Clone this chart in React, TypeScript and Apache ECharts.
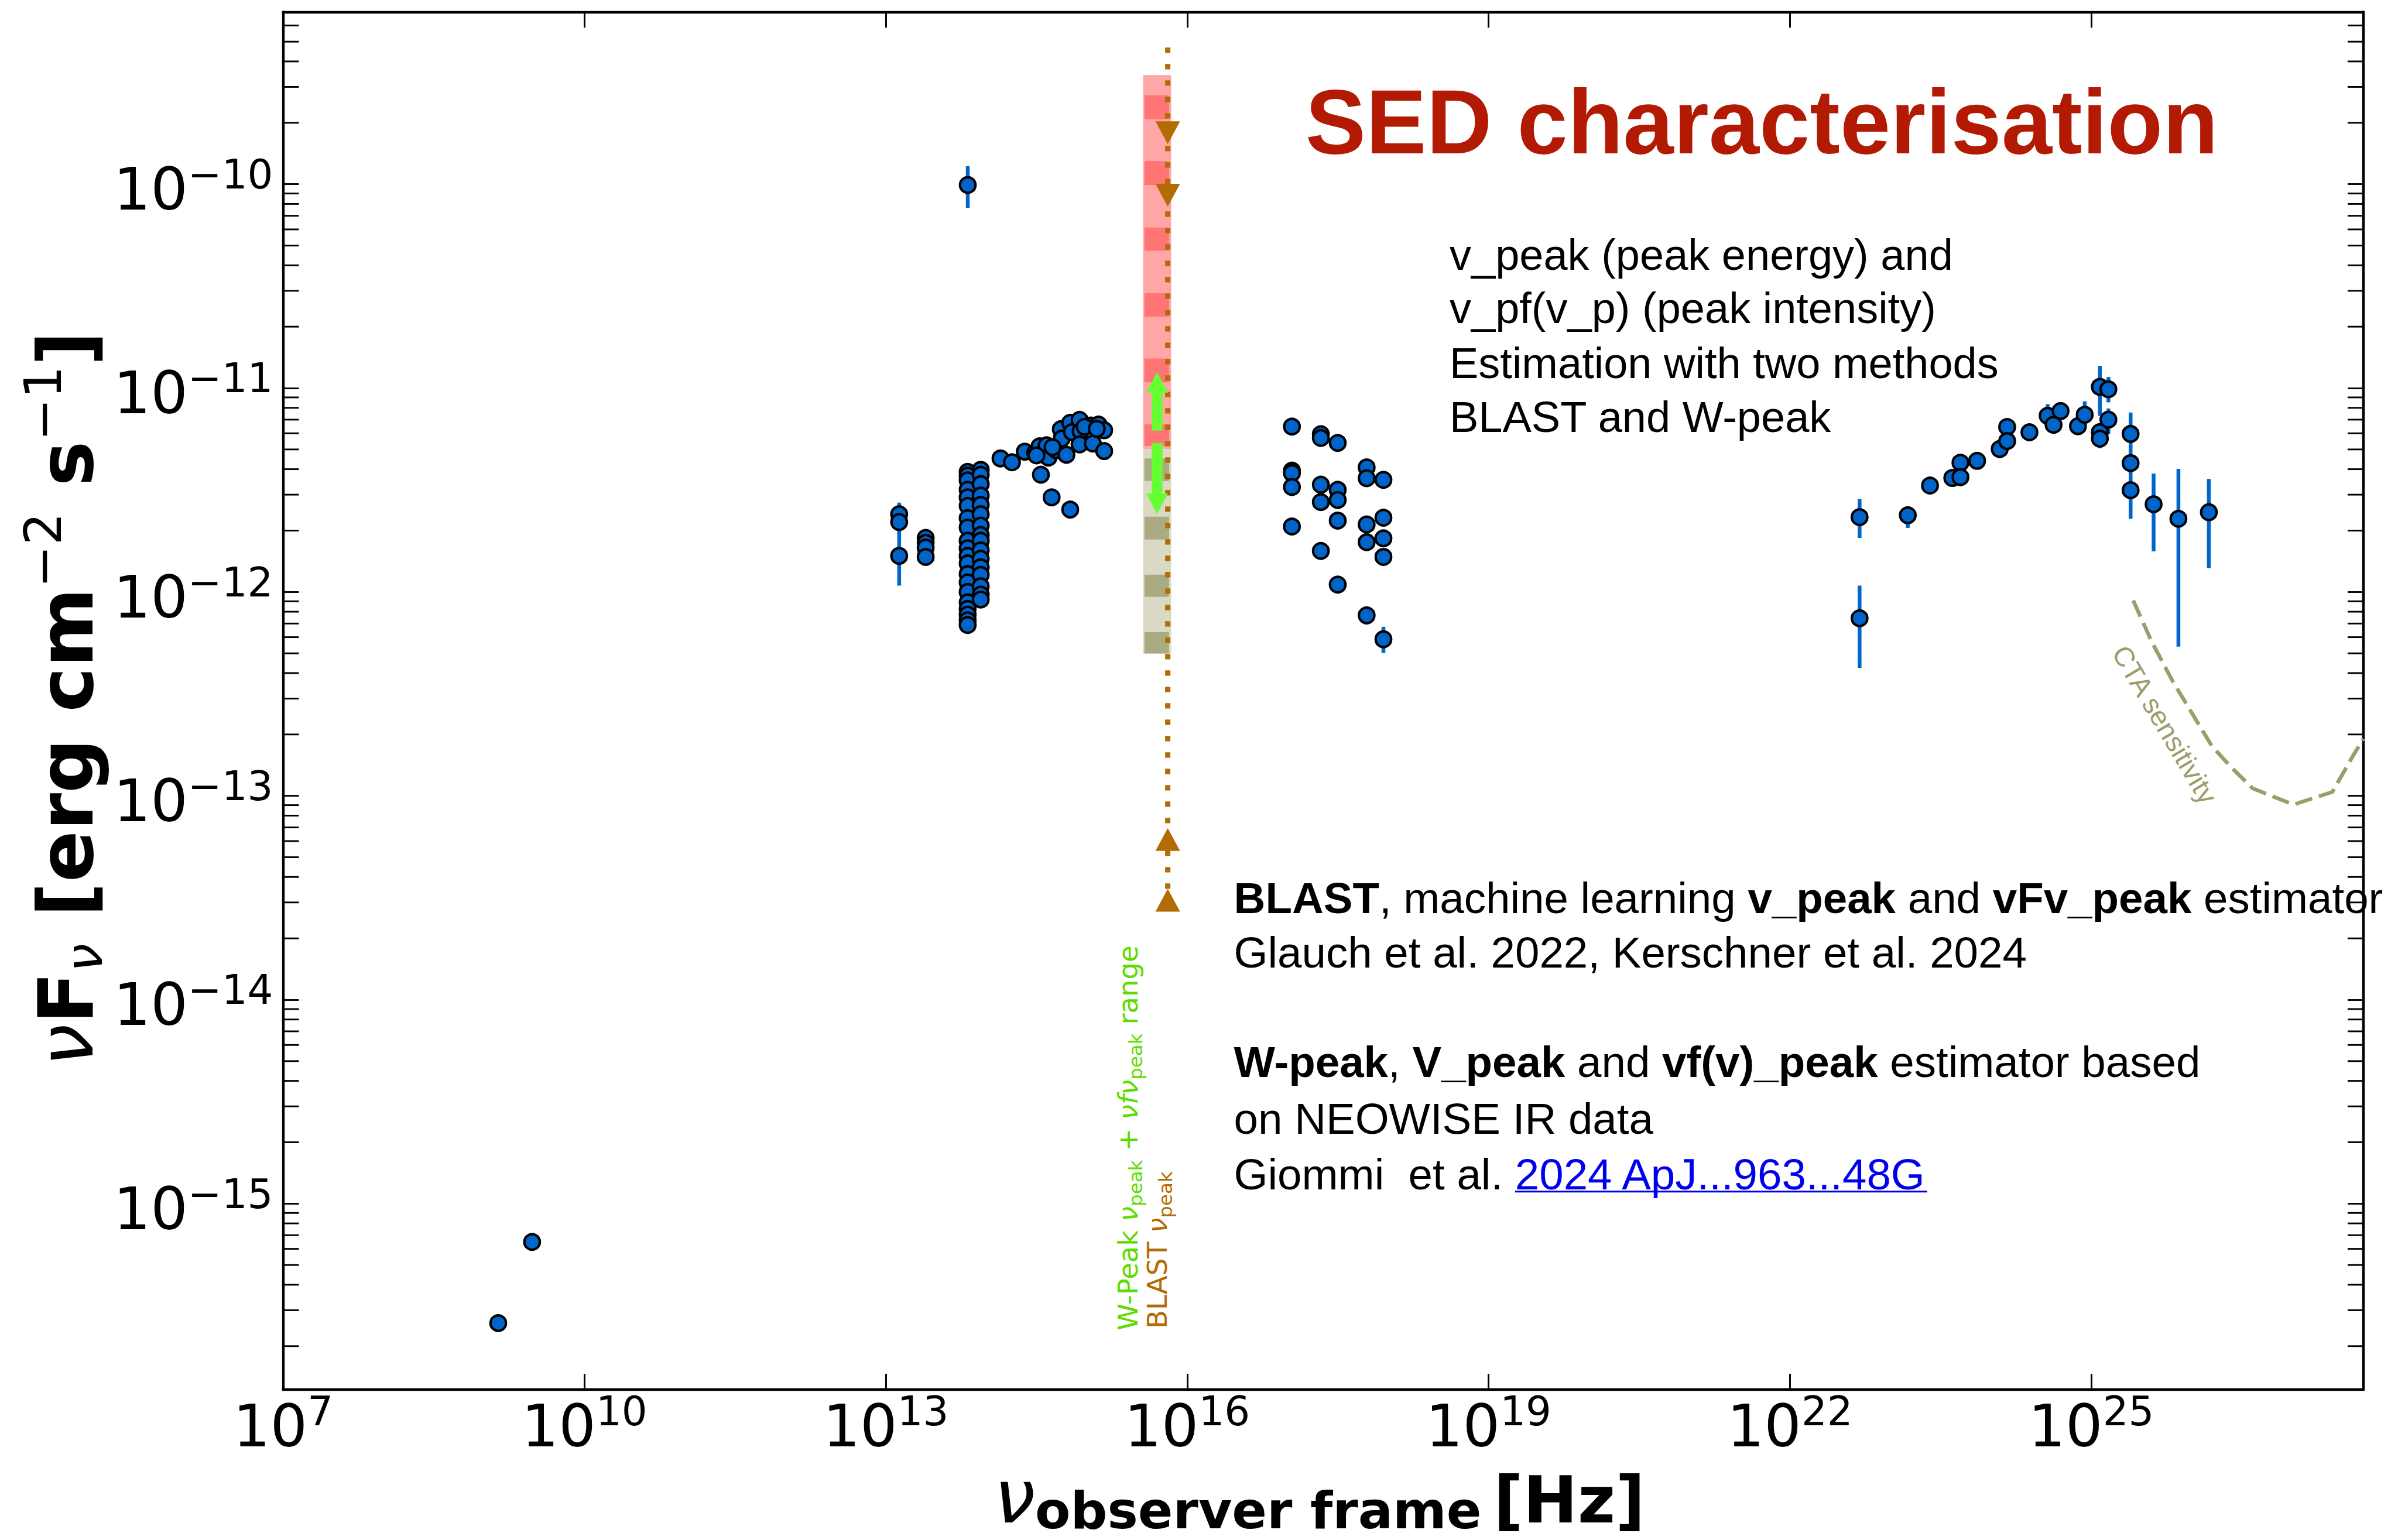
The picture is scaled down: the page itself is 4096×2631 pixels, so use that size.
import React, { useEffect, useRef } from "react";
import * as echarts from "echarts";

const W = 4096;
const H = 2631;

// ---- axes (log10 space) ----
const X_MIN = 7;
const X_MAX = 27.71;
const X_STEP = 3;
const Y_MIN = -15.912;
const Y_MAX = -9.155;
const MINOR_MULT = [2, 3, 4, 5, 6, 7, 8, 9];
const Y_DECADES = [-16, -15, -14, -13, -12, -11, -10];

// ---- data: log10(nu [Hz]) and log10(nuFnu [erg cm^-2 s^-1]) ----
const radioNu = [9.142, 9.479];
const radioFlux = [-15.586, -15.188];

const mmNu = [13.816, 13.133, 13.133, 13.133, 13.397, 13.397, 13.397, 13.397];
const mmFlux = [-10.004, -11.619, -11.657, -11.823, -11.735, -11.759, -11.782, -11.828];

const irCol1Nu = 13.815;
const irCol1Flux = [-11.411, -11.429, -11.453, -11.499, -11.536, -11.578, -11.638, -11.684, -11.749, -11.786,
  -11.823, -11.86, -11.912, -11.953, -12.0, -12.051, -12.083, -12.111, -12.139, -12.162];
const irCol2Nu = 13.945;
const irCol2Flux = [-11.401, -11.425, -11.471, -11.527, -11.573, -11.619, -11.675, -11.721, -11.749, -11.796,
  -11.837, -11.879, -11.916, -11.972, -12.013, -12.037];

const optNu = [14.142, 14.256, 14.384, 14.487, 14.531, 14.601, 14.619, 14.695, 14.742, 14.751, 14.798, 14.836,
  14.854, 14.929, 14.939, 14.929, 15.042, 15.061, 15.118, 15.174, 15.174, 14.544, 14.651, 14.836, 14.5, 14.66, 14.98, 15.1];
const optFlux = [-11.345, -11.364, -11.312, -11.318, -11.286, -11.281, -11.341, -11.304, -11.202, -11.248, -11.327, -11.17,
  -11.216, -11.156, -11.211, -11.276, -11.184, -11.272, -11.179, -11.207, -11.309, -11.425, -11.536, -11.596, -11.33, -11.29, -11.19, -11.2];

const xrayNu = [17.043, 17.043, 17.043, 17.043, 17.043, 17.331, 17.331, 17.331, 17.331, 17.331,
  17.499, 17.499, 17.499, 17.499, 17.499, 17.787, 17.787, 17.787, 17.787, 17.787, 17.954, 17.954, 17.954, 17.954, 17.954];
const xrayFlux = [-11.189, -11.405, -11.417, -11.485, -11.679, -11.226, -11.245, -11.474, -11.559, -11.799,
  -11.269, -11.499, -11.549, -11.65, -11.964, -11.389, -11.442, -11.669, -11.756, -12.115, -11.45, -11.636, -11.737, -11.828, -12.232];

const gammaNu = [22.694, 22.694, 23.174, 23.395, 23.617, 23.698, 23.698, 23.864, 24.089, 24.163, 24.163, 24.385, 24.566, 24.625,
  24.695, 24.868, 24.935, 25.086, 25.086, 25.086, 25.171, 25.171, 25.392, 25.392, 25.392, 25.621, 25.868, 26.171];
const gammaFlux = [-11.633, -12.129, -11.624, -11.478, -11.441, -11.366, -11.437, -11.357, -11.299, -11.191, -11.26, -11.217, -11.136, -11.18,
  -11.113, -11.187, -11.131, -10.994, -11.216, -11.248, -11.006, -11.155, -11.225, -11.368, -11.501, -11.57, -11.641, -11.609];

// error bars: nu, low, high
const errNu = [13.816, 13.133, 17.954, 22.694, 22.694, 23.174, 24.566, 24.935, 25.086, 25.086, 25.171, 25.171, 25.392, 25.621, 25.868, 26.171];
const errLow = [-10.116, -11.969, -12.299, -11.735, -12.372, -11.686, -11.16, -11.15, -11.136, -11.295, -11.07, -11.225, -11.641, -11.801, -12.268, -11.883];
const errHigh = [-9.912, -11.562, -12.171, -11.544, -11.969, -11.588, -11.079, -11.065, -10.891, -11.2, -10.946, -11.1, -11.12, -11.419, -11.396, -11.446];

// W-peak nu_peak + nuFnu_peak range band
const bandNu = [15.562, 15.841];
const bandDarkNu = [15.575, 15.82];
const bandRed = [-11.3, -9.465];
const bandRedDark = [[-9.681, -9.564], [-10.004, -9.887], [-10.327, -10.213], [-10.65, -10.535], [-10.972, -10.855], [-11.284, -11.178]];
const bandOlive = [-12.302, -11.3];
const bandOliveDark = [[-11.456, -11.345], [-11.743, -11.631], [-12.024, -11.915], [-12.302, -12.197]];
// W-peak arrows: nu, from, tip
const arrowNu = [15.701, 15.701];
const arrowFrom = [-11.208, -11.27];
const arrowTip = [-10.922, -11.617];

// BLAST nu_peak
const blastNu = 15.807;
const blastLine = [-9.33, -13.512];
const blastDown = [-9.748, -10.054];
const blastUp = [-13.214, -13.512];

// CTA sensitivity
const ctaNu = [25.418, 25.603, 25.813, 26.2, 26.388, 26.606, 27.013, 27.4, 27.61, 27.71];
const ctaFlux = [-12.042, -12.245, -12.44, -12.755, -12.857, -12.963, -13.043, -12.981, -12.8, -12.72];

// ---- styling ----
const MPL = "DejaVu Sans";
const HELV = "Liberation Sans";
const BLUE = "#0066cc";
const BROWN = "#b36c04";
const GREEN_TXT = "#5ddc00";
const OLIVE = "#9d9d6b";

const zip = (a: number[], b: number[]) => a.map((v, i) => [v, b[i]]);

type Seg = { t: string; size: number; weight?: string; style?: string; family?: string; dy?: number; color?: string; underline?: boolean };

let mctx: CanvasRenderingContext2D | null = null;
function measure(t: string, s: Seg) {
  if (!mctx) mctx = document.createElement("canvas").getContext("2d");
  mctx!.font = `${s.style || "normal"} ${s.weight || "normal"} ${s.size}px "${s.family || HELV}"`;
  return mctx!.measureText(t).width;
}
const CENTRAL = 0.3;
function runWidth(segs: Seg[]) {
  return segs.reduce((a, s) => a + measure(s.t, s), 0);
}
function run(segs: Seg[], x: number, y: number, rotation = 0, color = "#000"): any {
  const children: any[] = [];
  let cx = 0;
  for (const s of segs) {
    const lead = (s.t.match(/^\s*/) || [""])[0];
    const body = s.t.slice(lead.length);
    cx += lead ? measure(lead, s) : 0;
    const w = measure(body, s);
    const fill = s.color || color;
    if (body.length) {
      children.push({
        type: "text",
        x: cx,
        y: (s.dy || 0) - CENTRAL * s.size,
        style: {
          text: body,
          fontSize: s.size,
          fontFamily: s.family || HELV,
          fontWeight: s.weight || "normal",
          fontStyle: s.style || "normal",
          fill,
          align: "left",
          verticalAlign: "middle",
        },
      });
    }
    if (s.underline) {
      children.push({ type: "line", shape: { x1: cx, y1: s.size * 0.09, x2: cx + w, y2: s.size * 0.09 }, style: { stroke: fill, lineWidth: 3 } });
    }
    cx += w;
  }
  return { type: "group", x, y, rotation, children, silent: true };
}

function buildOption(): any {
  const points = [
    ...zip(radioNu, radioFlux),
    ...zip(mmNu, mmFlux),
    ...irCol1Flux.map((f) => [irCol1Nu, f]),
    ...irCol2Flux.map((f) => [irCol2Nu, f]),
    ...zip(optNu, optFlux),
    ...zip(xrayNu, xrayFlux),
    ...zip(gammaNu, gammaFlux),
  ];
  const minor: number[][] = [];
  Y_DECADES.forEach((d) => MINOR_MULT.forEach((k) => {
    const v = d + Math.log10(k);
    if (v > Y_MIN && v < Y_MAX) minor.push([X_MIN, v]);
  }));

  const rectItem = (color: string) => (params: any, api: any) => {
    const a = api.coord([api.value(0), api.value(3)]);
    const b = api.coord([api.value(1), api.value(2)]);
    return { type: "rect", shape: { x: a[0], y: a[1], width: b[0] - a[0], height: b[1] - a[1] }, style: { fill: color } };
  };

  const tickRich = {
    b: { fontFamily: MPL, fontSize: 100, lineHeight: 120, color: "#000", verticalAlign: "middle" },
    s: { fontFamily: MPL, fontSize: 69, lineHeight: 75, color: "#000", verticalAlign: "top" },
  };
  const axLine = { show: true, onZero: false, lineStyle: { color: "#000", width: 4.4 } };
  const axTick = { show: true, inside: true, length: 27, lineStyle: { color: "#000", width: 2.9 } };

  // ---- text graphics ----
  const S = 74.5;
  const g: any[] = [];
  g.push(run([{ t: "SED characterisation", size: 155, weight: "bold" }], 2229.7, 254.8, 0, "#b31a04"));
  const topLines = ["v_peak (peak energy) and", "v_pf(v_p) (peak intensity)", "Estimation with two methods", "BLAST and W-peak"];
  const topBase = [457.4, 548.5, 642.4, 734.5];
  topLines.forEach((t, i) => g.push(run([{ t, size: 74 }], 2476, topBase[i])));
  const bx = 2107.6;
  g.push(run([
    { t: "BLAST", size: S, weight: "bold" }, { t: ", machine learning ", size: S },
    { t: "v_peak", size: S, weight: "bold" }, { t: " and ", size: S },
    { t: "vFv_peak", size: S, weight: "bold" }, { t: " estimator", size: S },
  ], bx, 1557.2));
  g.push(run([{ t: "Glauch et al. 2022, Kerschner et al. 2024", size: S }], bx, 1650.2));
  g.push(run([
    { t: "W-peak", size: S, weight: "bold" }, { t: ", ", size: S },
    { t: "V_peak", size: S, weight: "bold" }, { t: " and ", size: S },
    { t: "vf(v)_peak", size: S, weight: "bold" }, { t: " estimator based", size: S },
  ], bx, 1837.2));
  g.push(run([{ t: "on NEOWISE IR data", size: S }], bx, 1934.1));
  g.push(run([
    { t: "Giommi ", size: S }, { t: " et al. ", size: S },
    { t: "2024 ApJ...963...48G", size: S, color: "#0000ee", underline: true },
  ], bx, 2029.1));

  // y-axis label (rotated)
  const M = 130, SS = 87;
  const ySegs: Seg[] = [
    { t: "ν", size: M, style: "italic", family: MPL },
    { t: "F", size: M, weight: "bold", family: MPL },
    { t: "ν", size: SS, style: "italic", family: MPL, dy: 18.5 },
    { t: " [erg cm", size: M, weight: "bold", family: MPL },
    { t: "−2", size: SS, family: MPL, dy: -52 },
    { t: " s", size: M, weight: "bold", family: MPL },
    { t: "−1", size: SS, family: MPL, dy: -52 },
    { t: "]", size: M, weight: "bold", family: MPL },
  ];
  const yw = runWidth(ySegs);
  g.push(run(ySegs, 152, 1193.8 + yw / 2, Math.PI / 2));

  // x-axis label
  const xlShift = -8;
  g.push(run([{ t: "ν", size: 126, style: "italic", family: MPL }], 1698, 2603.7 + xlShift));
  g.push(run([{ t: "observer frame", size: 88, weight: "bold", family: MPL }], 1768, 2615 + xlShift));
  g.push(run([{ t: "[Hz]", size: 111, weight: "bold", family: MPL }], 2551, 2603.7 + xlShift));

  // rotated legend texts near the band
  const LS = 46.5, LSub = 32.5;
  g.push(run([
    { t: "W-Peak ", size: LS, family: MPL },
    { t: "ν", size: LS, family: MPL, style: "italic" },
    { t: "peak", size: LSub, family: MPL, dy: 9 },
    { t: " + ", size: LS, family: MPL },
    { t: "νfν", size: LS, family: MPL, style: "italic" },
    { t: "peak", size: LSub, family: MPL, dy: 9 },
    { t: " range", size: LS, family: MPL },
  ], 1940.5, 2273, Math.PI / 2, GREEN_TXT));
  g.push(run([
    { t: "BLAST ", size: LS, family: MPL },
    { t: "ν", size: LS, family: MPL, style: "italic" },
    { t: "peak", size: LSub, family: MPL, dy: 9 },
  ], 1991.3, 2270, Math.PI / 2, BROWN));

  // CTA sensitivity label
  g.push(run([{ t: "CTA sensitivity", size: 47 }], 3608, 1114, -59.4 * Math.PI / 180, OLIVE));

  return {
    animation: false,
    backgroundColor: "#ffffff",
    grid: { left: 483.5, right: 59, top: 20.3, bottom: 257, containLabel: false },
    xAxis: [
      {
        type: "value", position: "bottom", min: X_MIN, max: X_MAX, interval: X_STEP,
        axisLine: axLine, axisTick: axTick, splitLine: { show: false },
        axisLabel: {
          show: true, margin: 2, showMaxLabel: false, showMinLabel: true,
          formatter: (v: number) => `{b|10}{s|${Math.round(v)}}`, rich: tickRich,
        },
      },
      {
        type: "value", position: "top", min: X_MIN, max: X_MAX, interval: X_STEP,
        axisLine: axLine, axisTick: axTick, splitLine: { show: false }, axisLabel: { show: false },
      },
    ],
    yAxis: [
      {
        type: "value", position: "left", min: Y_MIN, max: Y_MAX, splitNumber: 6,
        axisLine: axLine, axisTick: axTick, splitLine: { show: false },
        axisLabel: {
          show: true, margin: 17, showMinLabel: false, showMaxLabel: false, padding: [18, 0, 0, 0],
          formatter: (v: number) => `{b|10}{s|−${Math.abs(Math.round(v))}}`, rich: tickRich,
        },
      },
      {
        type: "value", position: "right", min: Y_MIN, max: Y_MAX, splitNumber: 6,
        axisLine: axLine, axisTick: axTick, splitLine: { show: false }, axisLabel: { show: false },
      },
    ],
    graphic: g,
    series: [
      {
        type: "custom", name: "band light", z: 1, silent: true,
        data: [[bandNu[0], bandNu[1], bandRed[0], bandRed[1]]],
        renderItem: rectItem("#ffa6a6"),
      },
      {
        type: "custom", name: "band olive", z: 1, silent: true,
        data: [[bandNu[0], bandNu[1], bandOlive[0], bandOlive[1]]],
        renderItem: rectItem("#d9d9c4"),
      },
      {
        type: "custom", name: "band red dark", z: 2, silent: true,
        data: bandRedDark.map((r) => [bandDarkNu[0], bandDarkNu[1], r[0], r[1]]),
        renderItem: rectItem("#ff7474"),
      },
      {
        type: "custom", name: "band olive dark", z: 2, silent: true,
        data: bandOliveDark.map((r) => [bandDarkNu[0], bandDarkNu[1], r[0], r[1]]),
        renderItem: rectItem("#abab82"),
      },
      {
        type: "line", name: "BLAST nu_peak", z: 3, silent: true, showSymbol: false,
        data: blastLine.map((f) => [blastNu, f]),
        lineStyle: { color: BROWN, width: 9, type: [9.2, 18.8], cap: "butt", opacity: 1 },
      },
      {
        type: "scatter", name: "BLAST upper", z: 4, silent: true, symbol: "triangle", symbolRotate: 180,
        symbolSize: [42, 39], data: blastDown.map((f) => [blastNu, f]), itemStyle: { color: BROWN, opacity: 1 },
      },
      {
        type: "scatter", name: "BLAST lower", z: 4, silent: true, symbol: "triangle",
        symbolSize: [42, 39], data: blastUp.map((f) => [blastNu, f]), itemStyle: { color: BROWN, opacity: 1 },
      },
      {
        type: "custom", name: "W-peak arrows", z: 4, silent: true,
        data: arrowNu.map((n, i) => [n, arrowFrom[i], arrowTip[i]]),
        renderItem: (params: any, api: any) => {
          const base = api.coord([api.value(0), api.value(1)]);
          const tip = api.coord([api.value(0), api.value(2)]);
          const dir = tip[1] < base[1] ? -1 : 1;
          const hl = 35, hw = 18.4, sw = 9.2;
          const cx = base[0];
          const hb = tip[1] - dir * hl;
          return {
            type: "polygon",
            shape: { points: [[cx - sw, base[1]], [cx - sw, hb], [cx - hw, hb], [cx, tip[1]], [cx + hw, hb], [cx + sw, hb], [cx + sw, base[1]]] },
            style: { fill: "#66ff33" },
          };
        },
      },
      {
        type: "custom", name: "error bars", z: 5, silent: true,
        data: errNu.map((n, i) => [n, errLow[i], errHigh[i]]),
        renderItem: (params: any, api: any) => {
          const a = api.coord([api.value(0), api.value(1)]);
          const b = api.coord([api.value(0), api.value(2)]);
          return { type: "line", shape: { x1: a[0], y1: a[1], x2: b[0], y2: b[1] }, style: { stroke: BLUE, lineWidth: 6.5 } };
        },
      },
      {
        type: "scatter", name: "SED", z: 6, silent: true, symbol: "circle", symbolSize: 26.5,
        data: points, itemStyle: { color: "#0064c8", borderColor: "#000", borderWidth: 4.2, opacity: 1 },
      },
      {
        type: "line", name: "CTA sensitivity", z: 5, silent: true, showSymbol: false,
        data: zip(ctaNu, ctaFlux),
        lineStyle: { color: OLIVE, width: 6.5, type: [30, 12], opacity: 1 },
      },
      {
        type: "custom", name: "minor ticks", z: 7, silent: true,
        data: minor,
        renderItem: (params: any, api: any) => {
          const v = api.value(1);
          const l = api.coord([X_MIN, v]);
          const r = api.coord([X_MAX, v]);
          return {
            type: "group",
            children: [
              { type: "line", shape: { x1: l[0], y1: l[1], x2: l[0] + 27, y2: l[1] }, style: { stroke: "#000", lineWidth: 2.9 } },
              { type: "line", shape: { x1: r[0] - 27, y1: r[1], x2: r[0], y2: r[1] }, style: { stroke: "#000", lineWidth: 2.9 } },
            ],
          };
        },
      },
    ],
  };
}

export default function App() {
  const ref = useRef<HTMLDivElement>(null);
  useEffect(() => {
    const chart = echarts.init(ref.current!, null, { renderer: "svg" });
    chart.setOption(buildOption());
    return () => chart.dispose();
  }, []);
  return <div ref={ref} style={{ position: "absolute", left: 0, top: 0, width: W, height: H, background: "#fff" }} />;
}
